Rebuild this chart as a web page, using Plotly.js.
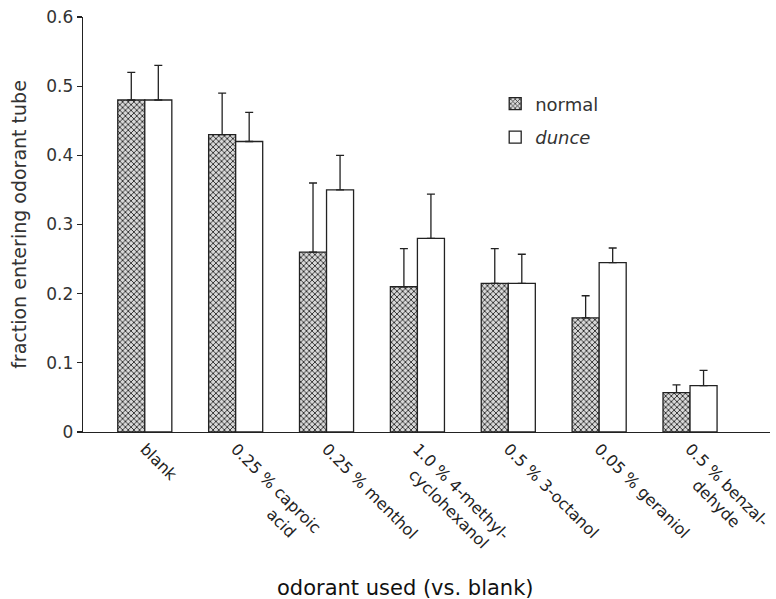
<!DOCTYPE html>
<html>
<head>
<meta charset="utf-8">
<script src="https://cdn.plot.ly/plotly-3.0.1.min.js"></script>
<style>html,body{margin:0;padding:0;background:#fff;}#chart{width:776px;height:599px;}</style>
</head>
<body>
<div id="chart"></div>
<script>
const categories = ["blank", "0.25 % caproic acid", "0.25 % menthol", "1.0 % 4-methylcyclohexanol", "0.5 % 3-octanol", "0.05 % geraniol", "0.5 % benzaldehyde"];
const tickLabels = ["blank", "0.25 % caproic<br>" + "\u00a0".repeat(14) + "acid", "0.25 % menthol", "1.0 % 4-methyl-<br>" + "\u00a0".repeat(3) + "cyclohexanol", "0.5 % 3-octanol", "0.05 % geraniol", "0.5 % benzal-<br>" + "\u00a0".repeat(6) + "dehyde"];
const normalValues = [0.48, 0.43, 0.26, 0.21, 0.215, 0.165, 0.057];
const normalErrors = [0.04, 0.06, 0.10, 0.055, 0.05, 0.032, 0.011];
const dunceValues = [0.48, 0.42, 0.35, 0.28, 0.215, 0.245, 0.067];
const dunceErrors = [0.05, 0.042, 0.05, 0.064, 0.042, 0.021, 0.022];
const yTickVals = [0, 0.1, 0.2, 0.3, 0.4, 0.5, 0.6];
const yTickText = ["0", "0.1", "0.2", "0.3", "0.4", "0.5", "0.6"];
const seriesNames = ["normal", "<i>dunce</i>"];

const zeros = normalValues.map(() => 0);
const lineCol = "#222";
const fontFam = "DejaVu Sans, Noto Sans, sans-serif";

const traces = [
  {
    type: "bar", name: seriesNames[0], legendgroup: "g1", x: categories, y: normalValues,
    marker: {color: "white", line: {color: lineCol, width: 1.3},
      pattern: {shape: "x", size: 4, solidity: 0.4, fgcolor: "#2a2a2a", bgcolor: "#d8d8d8"}},
    error_y: {type: "data", symmetric: false, array: normalErrors, arrayminus: zeros,
      color: lineCol, thickness: 1.3, width: 4}
  },
  {
    type: "bar", name: seriesNames[1], legendgroup: "g2", x: categories, y: dunceValues,
    marker: {color: "white", line: {color: lineCol, width: 1.3}},
    error_y: {type: "data", symmetric: false, array: dunceErrors, arrayminus: zeros,
      color: lineCol, thickness: 1.3, width: 4}
  }
];

const layout = {
  width: 776, height: 599,
  margin: {l: 83, r: 6, t: 17, b: 167},
  paper_bgcolor: "white", plot_bgcolor: "white",
  font: {family: fontFam, color: "#222", size: 17},
  barmode: "group", bargap: 0.405, bargroupgap: 0,
  showlegend: true,
  legend: {x: 0.6, y: 0.835, xanchor: "left", yanchor: "top", font: {size: 18, color: "#333"},
    bgcolor: "rgba(0,0,0,0)", tracegroupgap: 7},
  xaxis: {
    type: "category", range: [-0.68, 6.88],
    tickmode: "array", tickvals: categories, ticktext: tickLabels,
    showline: true, linecolor: lineCol, linewidth: 1.3,
    ticks: "", tickangle: 45, tickfont: {size: 16, color: "#222"},
    showgrid: false, zeroline: false
  },
  yaxis: {
    range: [0, 0.6], showline: true, linecolor: lineCol, linewidth: 1.3,
    ticks: "outside", ticklen: 5, tickwidth: 1.3, tickcolor: lineCol,
    tickvals: yTickVals, ticktext: yTickText, tickfont: {size: 17, color: "#333"},
    showgrid: false, zeroline: false,
    title: {text: "fraction entering odorant tube", font: {size: 19, color: "#333"}, standoff: 14}
  },
  annotations: [
    {text: "odorant used (vs. blank)", xref: "paper", yref: "paper", x: 0.47, y: -0.375,
      xanchor: "center", yanchor: "middle", showarrow: false, font: {size: 21, color: "#111"}}
  ]
};

Plotly.newPlot("chart", traces, layout, {displayModeBar: false, staticPlot: true});
</script>
</body>
</html>
